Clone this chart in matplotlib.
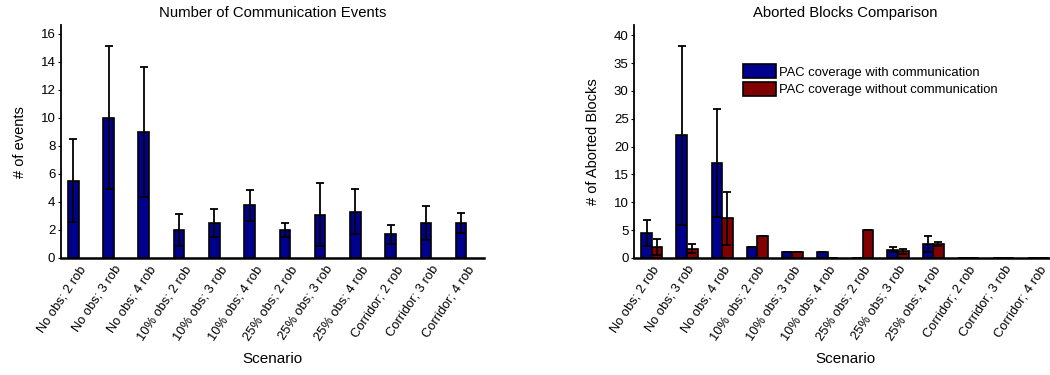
import matplotlib
matplotlib.use('Agg')
import matplotlib.pyplot as plt
import numpy as np

plt.rcParams['font.family'] = ['Liberation Sans', 'DejaVu Sans']

scenarios = ['No obs; 2 rob', 'No obs; 3 rob', 'No obs; 4 rob',
             '10% obs; 2 rob', '10% obs; 3 rob', '10% obs; 4 rob',
             '25% obs; 2 rob', '25% obs; 3 rob', '25% obs; 4 rob',
             'Corridor; 2 rob', 'Corridor; 3 rob', 'Corridor; 4 rob']

# number of communication events (mean, std)
comm_mean = [5.5, 10.0, 9.0, 2.0, 2.5, 3.75, 2.0, 3.1, 3.3, 1.7, 2.5, 2.5]
comm_err = [2.95, 5.1, 4.65, 1.15, 0.98, 1.12, 0.5, 2.25, 1.6, 0.68, 1.2, 0.7]

# aborted blocks (mean, std)
abort_with = [4.5, 22.0, 17.1, 2.0, 1.0, 1.0, 0.0, 1.5, 2.5, 0.0, 0.0, 0.0]
abort_with_err = [2.4, 16.0, 9.7, 0.0, 0.0, 0.0, 0.0, 0.4, 1.45, 0.0, 0.0, 0.0]
abort_without = [2.0, 1.7, 7.1, 3.9, 1.0, 0.0, 5.0, 1.25, 2.5, 0.0, 0.0, 0.0]
abort_without_err = [1.5, 0.8, 4.8, 0.0, 0.0, 0.0, 0.0, 0.45, 0.4, 0.0, 0.0, 0.0]

blue = '#00008f'
red = '#800000'

x = np.arange(1, len(scenarios) + 1)
w = 0.3
off = 0.15

fig = plt.figure(figsize=(10.5, 3.75), dpi=100)
ax1 = fig.add_axes([0.058, 0.312, 0.403, 0.621])
ax2 = fig.add_axes([0.604, 0.312, 0.402, 0.621])

ekw = dict(ecolor='black', elinewidth=1.3, capsize=3.2, capthick=1.3)

ax1.bar(x - off, comm_mean, w, color=blue, edgecolor='black', linewidth=1.2,
        yerr=comm_err, error_kw=ekw)
ax1.set_ylim(0, 16.6)
ax1.set_yticks(range(0, 17, 2))
ax1.set_title('Number of Communication Events', fontsize=10.7)
ax1.set_ylabel('# of events', fontsize=10.5, labelpad=10)

ax2.bar(x - off, abort_with, w, color=blue, edgecolor='black', linewidth=1.2,
        yerr=abort_with_err, error_kw=ekw, label='PAC coverage with communication')
ax2.bar(x + off, abort_without, w, color=red, edgecolor='black', linewidth=1.2,
        yerr=abort_without_err, error_kw=ekw, label='PAC coverage without communication')
ax2.set_ylim(0, 41.8)
ax2.set_yticks(range(0, 41, 5))
ax2.set_title('Aborted Blocks Comparison', fontsize=10.7)
ax2.set_ylabel('# of Aborted Blocks', fontsize=10.5, labelpad=10)
ax2.legend(loc='upper left', bbox_to_anchor=(0.242, 0.86), frameon=False,
           fontsize=9.4, handlelength=2.55, handleheight=1.3, handletextpad=0.2,
           labelspacing=0.25, borderpad=0)

for ax in (ax1, ax2):
    ax.set_xlim(0.5, 12.5)
    ax.set_xticks(x)
    ax.set_xticklabels(scenarios, rotation=56, ha='right', rotation_mode='anchor',
                       fontsize=9.3)
    ax.set_xlabel('Scenario', fontsize=11, labelpad=7)
    ax.spines['top'].set_visible(False)
    ax.spines['right'].set_visible(False)
    ax.spines['bottom'].set_linewidth(1.8)
    ax.spines['left'].set_linewidth(1.3)
    ax.tick_params(axis='x', length=0, pad=4)
    ax.tick_params(axis='y', length=2, labelsize=9.5, pad=2)

fig.savefig('out.png', dpi=100)
